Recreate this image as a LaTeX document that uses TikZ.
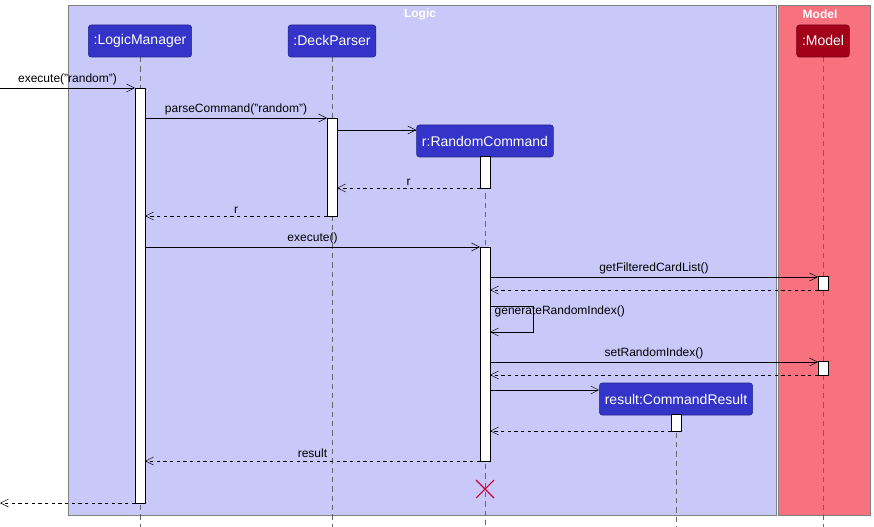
\documentclass[tikz,border=0pt]{standalone}
\usepackage{fontspec}
\setmainfont{Liberation Sans}
\usetikzlibrary{arrows.meta}
\definecolor{logicbg}{HTML}{C9C9F9}
\definecolor{modelbg}{HTML}{F8717F}
\definecolor{partblue}{HTML}{3434C8}
\definecolor{partred}{HTML}{A3001A}
\tikzset{
  part/.style={draw=partblue!70!black, fill=partblue, text=white, rounded corners=2pt, minimum height=24pt, inner sep=4pt, font=\fontsize{10.5}{12}\selectfont},
  life/.style={gray!80!black, dashed, dash pattern=on 4pt off 3pt, thin},
  act/.style={draw=black, fill=white, thin},
  msg/.style={-{Straight Barb[length=6pt,width=6pt]}, thin},
  ret/.style={msg, dashed, dash pattern=on 2.5pt off 2.5pt},
  lbl/.style={font=\fontsize{9}{10}\selectfont, above, inner sep=2pt}
}
\begin{document}
\begin{tikzpicture}[x=0.75pt,y=-0.75pt]
\useasboundingbox (0,0) rectangle (874,527);
% boxes
\draw[gray, fill=logicbg] (68,5) rectangle (776,515);
\draw[gray, fill=modelbg] (778,5) rectangle (870,515);
\node[white, font=\bfseries\fontsize{9}{10}\selectfont] (logic) at (420,14) {Logic};
\node[white, font=\bfseries\fontsize{9}{10}\selectfont] (model) at (820,14) {Model};

% lifelines
\draw[life] (140,57) -- (140,527);
\draw[life] (332,57) -- (332,527);
\draw[life] (485,156) -- (485,527);
\draw[life] (823,57) -- (823,527);
\draw[life] (676,414) -- (676,527);

% participants
\node[part] (lm) at (140,41) {:LogicManager};
\node[part] (dp) at (332,41) {:DeckParser};
\node[part, fill=partred, draw=partred!70!black] (mo) at (823,41) {:Model};
\node[part] (rc) at (485,141) {r:RandomCommand};
\node[part] (cr) at (676,399) {result:CommandResult};

% activations
\draw[act] (135,88) rectangle (145,503);
\draw[act] (327,118) rectangle (337,216);
\draw[act] (480,156) rectangle (490,188);
\draw[act] (480,247) rectangle (490,461);
\draw[act] (818,276) rectangle (828,290);
\draw[act] (818,361) rectangle (828,375);
\draw[act] (671,414) rectangle (681,431);

% message end points
\coordinate (in) at (0,88);
\coordinate (lmA) at (135,88);
\coordinate (lmB) at (145,118);
\coordinate (dpA) at (327,118);
\coordinate (dpB) at (337,130);
\coordinate (rcA) at (480,188);
\coordinate (dpC) at (337,188);
\coordinate (dpD) at (327,216);
\coordinate (lmC) at (145,216);
\coordinate (lmD) at (145,247);
\coordinate (rcB) at (480,247);
\coordinate (rcC) at (490,277);
\coordinate (moA) at (818,277);
\coordinate (moB) at (818,290);
\coordinate (rcD) at (490,290);
\coordinate (rcE) at (490,362);
\coordinate (moC) at (818,362);
\coordinate (moD) at (818,375);
\coordinate (rcF) at (490,375);
\coordinate (rcG) at (490,390);
\coordinate (crA) at (671,431);
\coordinate (rcH) at (490,431);
\coordinate (rcI) at (480,461);
\coordinate (lmE) at (145,461);
\coordinate (lmF) at (135,503);
\coordinate (out) at (0,503);

% messages
\draw[msg] (in) -- node[lbl] {execute("random")} (lmA);
\draw[msg] (lmB) -- node[lbl] {parseCommand("random")} (dpA);
\draw[msg] (dpB) -- (rc.west |- dpB);
\draw[ret] (rcA) -- node[lbl] {r} (dpC);
\draw[ret] (dpD) -- node[lbl] {r} (lmC);
\draw[msg] (lmD) -- node[lbl] {execute()} (rcB);
\draw[msg] (rcC) -- node[lbl] {getFilteredCardList()} (moA);
\draw[ret] (moB) -- (rcD);
\draw[msg] (490,306) -- (533,306) -- (533,332) -- (490,332);
\node[font=\fontsize{9}{10}\selectfont, anchor=west] (gri) at (490,311) {generateRandomIndex()};
\draw[msg] (rcE) -- node[lbl] {setRandomIndex()} (moC);
\draw[ret] (moD) -- (rcF);
\draw[msg] (rcG) -- (cr.west |- rcG);
\draw[ret] (crA) -- (rcH);
\draw[ret] (rcI) -- node[lbl] {result} (lmE);
\draw[ret] (lmF) -- (out);

% destroy
\draw[purple!80!red, thick] (476,480) -- (494,498) (476,498) -- (494,480);
\end{tikzpicture}
\end{document}
